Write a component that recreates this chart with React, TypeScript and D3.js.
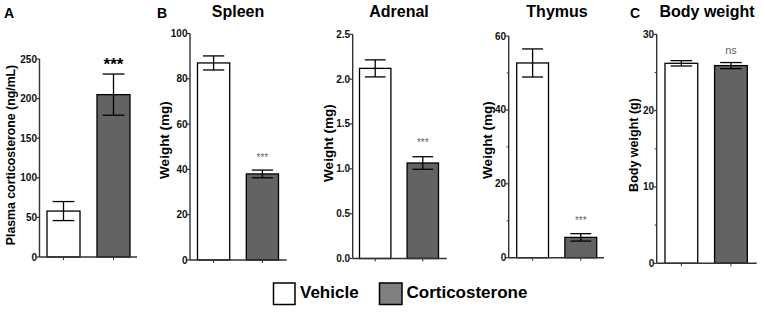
import React from "react";
import * as d3 from "d3";

const groups = ["Vehicle", "Corticosterone"];

const corticoMean = [58, 205];
const corticoErr = [12, 26];
const corticoTicks = [0, 50, 100, 150, 200, 250];

const spleenMean = [87, 38];
const spleenErr = [3.1, 1.7];
const spleenTicks = [0, 20, 40, 60, 80, 100];

const adrenalMean = [2.12, 1.065];
const adrenalErr = [0.095, 0.07];
const adrenalTicks = [0, 0.5, 1.0, 1.5, 2.0, 2.5];

const thymusMean = [52.7, 5.5];
const thymusErr = [3.8, 1.0];
const thymusTicks = [0, 20, 40, 60];
const thymusMinor = [10, 30, 50];

const bodyMean = [26.2, 25.9];
const bodyErr = [0.35, 0.4];
const bodyTicks = [0, 10, 20, 30];
const bodyMinor = [5, 15, 25];

const FONT = "Liberation Sans, Arial, sans-serif";
const fills = ["#ffffff", "#636363"];

type Panel = {
  mean: number[];
  err: number[];
  ticks: number[];
  minor?: number[];
  fmt: (v: number) => string;
  domainMax: number;
  axisX: number;
  axisEnd: number;
  barRange: [number, number];
  yRange: [number, number];
  ylabel: string;
  ylabelX: number;
  ylabelY: number;
  ylabelSize: number;
  title?: string;
  titleX?: number;
  letter?: string;
  letterX?: number;
  sig: string;
  sigY: number;
  sigStyle: "big" | "small" | "ns";
};

const panels: Panel[] = [
  {
    mean: corticoMean, err: corticoErr, ticks: corticoTicks, fmt: d3.format("d"), domainMax: 250,
    axisX: 39.5, axisEnd: 137, barRange: [47, 130], yRange: [257, 59],
    ylabel: "Plasma corticosterone (ng/mL)", ylabelX: 11, ylabelY: 155, ylabelSize: 12.3,
    letter: "A", letterX: 4, sig: "***", sigY: 70, sigStyle: "big",
  },
  {
    mean: spleenMean, err: spleenErr, ticks: spleenTicks, fmt: d3.format("d"), domainMax: 100,
    axisX: 190, axisEnd: 286.7, barRange: [197.5, 278.5], yRange: [260, 33.5],
    ylabel: "Weight (mg)", ylabelX: 164, ylabelY: 140, ylabelSize: 13.5, title: "Spleen", titleX: 238,
    letter: "B", letterX: 157, sig: "***", sigY: 161, sigStyle: "small",
  },
  {
    mean: adrenalMean, err: adrenalErr, ticks: adrenalTicks, fmt: d3.format(".1f"), domainMax: 2.5,
    axisX: 352.7, axisEnd: 446.7, barRange: [359.5, 438.5], yRange: [258.5, 34.3],
    ylabel: "Weight (mg)", ylabelX: 328.5, ylabelY: 143, ylabelSize: 13.5, title: "Adrenal", titleX: 399,
    sig: "***", sigY: 146, sigStyle: "small",
  },
  {
    mean: thymusMean, err: thymusErr, ticks: thymusTicks, minor: thymusMinor, fmt: d3.format("d"), domainMax: 60,
    axisX: 508.7, axisEnd: 604, barRange: [516.7, 596.7], yRange: [257.7, 36],
    ylabel: "Weight (mg)", ylabelX: 487.5, ylabelY: 140, ylabelSize: 13.5, title: "Thymus", titleX: 557,
    sig: "***", sigY: 224, sigStyle: "small",
  },
  {
    mean: bodyMean, err: bodyErr, ticks: bodyTicks, minor: bodyMinor, fmt: d3.format("d"), domainMax: 30,
    axisX: 656.7, axisEnd: 756.7, barRange: [665, 747.3], yRange: [263.3, 34.3],
    ylabel: "Body weight (g)", ylabelX: 634, ylabelY: 145, ylabelSize: 12.5, title: "Body weight", titleX: 707,
    letter: "C", letterX: 630, sig: "ns", sigY: 54, sigStyle: "ns",
  },
];

function PanelView({ p }: { p: Panel }) {
  const x = d3.scaleBand<string>().domain(groups).range(p.barRange).paddingInner(0.34).paddingOuter(0);
  const y = d3.scaleLinear().domain([0, p.domainMax]).range(p.yRange);
  const bw = x.bandwidth();
  const capW = bw * 0.66;
  const y0 = y(0);
  const axisColor = "#333";
  return (
    <g>
      {p.letter && (
        <text x={p.letterX} y={18} fontFamily={FONT} fontWeight="bold" fontSize={14} fill="#000">{p.letter}</text>
      )}
      {p.title && (
        <text x={p.titleX} y={17} fontFamily={FONT} fontWeight="bold" fontSize={16} textAnchor="middle" fill="#000">{p.title}</text>
      )}
      <text
        transform={`translate(${p.ylabelX},${p.ylabelY}) rotate(-90)`}
        textAnchor="middle" dominantBaseline="central"
        fontFamily={FONT} fontWeight="bold" fontSize={p.ylabelSize} fill="#000"
      >{p.ylabel}</text>
      {groups.map((g, i) => {
        const cx = (x(g) as number) + bw / 2;
        const top = y(p.mean[i] + p.err[i]);
        const bot = y(p.mean[i] - p.err[i]);
        return (
          <g key={g}>
            <rect x={x(g)} y={y(p.mean[i])} width={bw} height={y0 - y(p.mean[i])}
              fill={fills[i]} stroke="#000" strokeWidth={1.3} />
            <line x1={cx} x2={cx} y1={top} y2={bot} stroke="#000" strokeWidth={1.3} />
            <line x1={cx - capW / 2} x2={cx + capW / 2} y1={top} y2={top} stroke="#000" strokeWidth={1.3} />
            <line x1={cx - capW / 2} x2={cx + capW / 2} y1={bot} y2={bot} stroke="#000" strokeWidth={1.3} />
            <line x1={cx} x2={cx} y1={y0} y2={y0 + 3} stroke={axisColor} strokeWidth={1} />
          </g>
        );
      })}
      <line x1={p.axisX} x2={p.axisX} y1={p.yRange[1]} y2={y0} stroke={axisColor} strokeWidth={1.4} />
      <line x1={p.axisX} x2={p.axisEnd} y1={y0} y2={y0} stroke={axisColor} strokeWidth={1.4} />
      {p.ticks.map((t) => (
        <g key={t}>
          <line x1={p.axisX - 3} x2={p.axisX} y1={y(t)} y2={y(t)} stroke={axisColor} strokeWidth={1.2} />
          <text x={p.axisX - 2.5} y={y(t)} dy="0.35em" textAnchor="end" fontFamily={FONT} fontWeight="bold" fontSize={10} fill="#111">
            {p.fmt(t)}
          </text>
        </g>
      ))}
      {(p.minor || []).map((t) => (
        <line key={"m" + t} x1={p.axisX - 2} x2={p.axisX} y1={y(t)} y2={y(t)} stroke={axisColor} strokeWidth={1} />
      ))}
      <text
        x={(x(groups[1]) as number) + bw / 2}
        y={p.sigY}
        textAnchor="middle"
        fontFamily={FONT}
        fontWeight={p.sigStyle === "big" ? "bold" : "normal"}
        fontSize={p.sigStyle === "big" ? 17 : p.sigStyle === "ns" ? 11 : 10}
        fill={p.sigStyle === "big" ? "#000" : "#666"}
      >{p.sig}</text>
    </g>
  );
}

export default function App() {
  return (
    <svg width={765} height={312} style={{ position: "absolute", left: 0, top: 0, background: "#fff" }}>
      <rect width={765} height={312} fill="#fff" />
      {panels.map((p, i) => <PanelView key={i} p={p} />)}
      <rect x={273.5} y={283} width={21.5} height={21.5} fill="#fff" stroke="#000" strokeWidth={1.5} />
      <text x={300} y={297.5} fontFamily={FONT} fontWeight="bold" fontSize={17} fill="#000">{groups[0]}</text>
      <rect x={379.5} y={283} width={22.5} height={21.5} fill="#7f7f7f" stroke="#000" strokeWidth={1.5} />
      <text x={406.5} y={297.5} fontFamily={FONT} fontWeight="bold" fontSize={17} fill="#000">{groups[1]}</text>
    </svg>
  );
}
